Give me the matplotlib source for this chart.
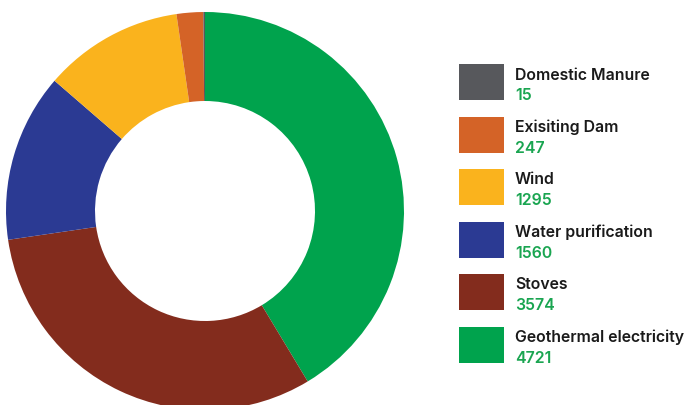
import matplotlib.pyplot as plt
from matplotlib.patches import Rectangle

labels = ["Geothermal electricity", "Stoves", "Water purification",
          "Wind", "Exisiting Dam", "Domestic Manure"]
values = [4721, 3574, 1560, 1295, 247, 15]
colors = ["#00a34d", "#832c1d", "#2b3a93", "#fab31d", "#d46327", "#57585c"]

fig = plt.figure(figsize=(6.86, 4.06), dpi=100)
ax = fig.add_axes([0, 0, 1, 1])

ax.pie(values, colors=colors, startangle=90, counterclock=False,
       center=(205, 194), radius=199,
       wedgeprops=dict(width=89, linewidth=0))

# pie() resets the limits, so set them afterwards
ax.set_xlim(0, 686)
ax.set_ylim(0, 406)
ax.set_aspect("equal")
ax.axis("off")

# legend, listed from the smallest slice down
font = ["Inter", "DejaVu Sans"]
top = 341
for i, (lab, val, col) in enumerate(zip(labels[::-1], values[::-1], colors[::-1])):
    y = top - i * 52.5
    ax.add_patch(Rectangle((459, y - 36), 45, 36, color=col, linewidth=0))
    ax.text(515, y - 10, lab, fontsize=11.4, fontweight="semibold",
            family=font, color="#1a1a1a", va="center", ha="left")
    ax.text(515, y - 31, str(val), fontsize=11.4, fontweight="semibold",
            family=font, color="#1aa551", va="center", ha="left")

fig.savefig("out.png", dpi=100)
